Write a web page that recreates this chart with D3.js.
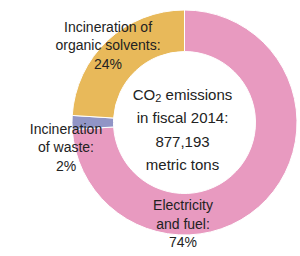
<!DOCTYPE html>
<meta charset="utf-8">
<style>
    body { margin: 0; background: #fff; }
    text { font-family: "Liberation Sans", Arial, sans-serif; fill: #222; }
</style>
<svg width="300" height="256"></svg>
<script src="https://cdn.jsdelivr.net/npm/d3@7"></script>
<script>
    // data
    var sources = ["Electricity and fuel", "Incineration of waste", "Incineration of organic solvents"];
    var shares = [74, 2, 24];
    var colors = ["#e89ac0", "#9195c6", "#e8b95a"];
    var labelLines = [
        ["Electricity", "and fuel:", "74%"],
        ["Incineration", "of waste:", "2%"],
        ["Incineration of", "organic solvents:", "24%"]
    ];
    var centerLines = ["emissions", "in fiscal 2014:", "877,193", "metric tons"];

    var svg = d3.select("svg"),
        cx = 184.5, cy = 122.5,
        outerR = 112.5, innerR = 71;

    var g = svg.append("g")
        .attr("transform", "translate(" + cx + "," + cy + ")");

    var pie = d3.pie().sort(null).value(function (d) { return d; });
    var arc = d3.arc().innerRadius(innerR).outerRadius(outerR);

    var arcs = pie(shares);

    g.selectAll("path")
        .data(arcs)
        .enter().append("path")
        .attr("d", arc)
        .attr("fill", function (d, i) { return colors[i]; })
        .attr("stroke", "#fff")
        .attr("stroke-width", 1);

    // label placement: angle (null = slice middle), radius, plus nudge
    var labelPos = [
        { a: Math.PI, r: 101, dx: -1.5, dy: 0 },
        { a: null, r: 118.5, dx: 0, dy: 24.5 },
        { a: null, r: 100, dx: -8, dy: -4.5 }
    ];
    var lh = 18.5;

    arcs.forEach(function (d, i) {
        var p = labelPos[i],
            ang = p.a === null ? (d.startAngle + d.endAngle) / 2 : p.a,
            x = Math.sin(ang) * p.r + p.dx,
            y = -Math.cos(ang) * p.r + p.dy;
        var lines = labelLines[i];
        var t = g.append("text")
            .attr("text-anchor", "middle")
            .attr("font-size", 14);
        lines.forEach(function (s, j) {
            t.append("tspan")
                .attr("x", x)
                .attr("y", y + (j - (lines.length - 1) / 2) * lh + 5)
                .text(s);
        });
    });

    // centre text
    var ct = g.append("text")
        .attr("text-anchor", "middle")
        .attr("font-size", 15);
    var clh = 23.5;
    centerLines.forEach(function (s, j) {
        var ts = ct.append("tspan")
            .attr("x", -2)
            .attr("y", (j - 1.5) * clh + 12.5);
        if (j === 0) {
            ts.append("tspan").text("CO");
            ts.append("tspan").attr("font-size", 11).attr("dy", 2).text("2");
            ts.append("tspan").attr("dy", -2).text(" " + s);
        } else {
            ts.text(s);
        }
    });
</script>
